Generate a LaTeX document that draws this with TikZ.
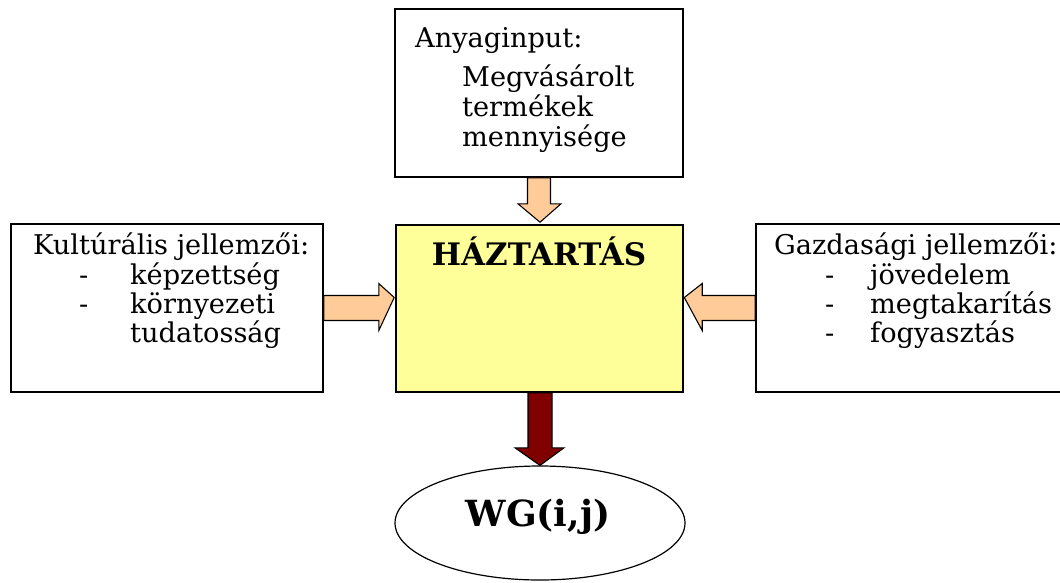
\documentclass[tikz,border=0pt]{standalone}
\usepackage{fontspec}
\setmainfont{DejaVu Serif}
\usetikzlibrary{shapes.geometric,calc}
\definecolor{boxyellow}{HTML}{FFFF99}
\definecolor{peach}{HTML}{FFCC99}
\definecolor{darkred}{HTML}{800000}
\tikzset{
  frame/.style={draw=black, line width=1.6pt, fill=white, inner sep=0pt},
  txt/.style={anchor=base west, inner sep=0pt, font=\fontsize{27.2}{31}\selectfont},
  blockarrow/.style={draw=black, line width=1.1pt, line join=miter},
}
\begin{document}
\begin{tikzpicture}[x=1pt,y=-1pt]
\useasboundingbox (0,0) rectangle (1060,582);
\clip (0,0) rectangle (1060,582);
% boxes
\node[frame, minimum width=288pt, minimum height=168pt] (top) at (539,93) {};
\node[frame, fill=boxyellow, minimum width=287pt, minimum height=167pt] (hh) at (539.5,308.5) {};
\node[frame, minimum width=312pt, minimum height=168pt] (left) at (167,308) {};
\node[frame, minimum width=312pt, minimum height=168pt] (right) at (912,308) {};
\node[draw=black, line width=1.2pt, ellipse, fill=white, minimum width=290pt, minimum height=114pt, inner sep=0pt] (wg) at (540,523) {};
% texts
\node[txt] (t1) at (415,47) {Anyaginput:};
\node[txt] (t2) at (462,86) {Megvásárolt};
\node[txt] (t3) at (462,116) {termékek};
\node[txt] (t4) at (462,146) {mennyisége};
\node[txt] (l1) at (33,254) {Kultúrális jellemzői:};
\node[txt] (l2d) at (79,284) {-};
\node[txt] (l2) at (130,284) {képzettség};
\node[txt] (l3d) at (79,313) {-};
\node[txt] (l3) at (130,313) {környezeti};
\node[txt] (l4) at (130,342) {tudatosság};
\node[txt] (r1) at (774,254) {Gazdasági jellemzői:};
\node[txt] (r2d) at (825,284) {-};
\node[txt] (r2) at (870,284) {jövedelem};
\node[txt] (r3d) at (825,313) {-};
\node[txt] (r3) at (870,313) {megtakarítás};
\node[txt] (r4d) at (825,342) {-};
\node[txt] (r4) at (870,342) {fogyasztás};
\node[anchor=base, inner sep=0pt, font=\fontsize{31}{36}\selectfont\bfseries] (hht) at (539,265) {HÁZTARTÁS};
\node[anchor=base, inner sep=0pt, font=\fontsize{36}{42}\selectfont\bfseries] (wgt) at (538,526) {WG(i,j)};
% arrows
% top -> hh (down)
\draw[blockarrow, fill=peach]
  ($(top.south)+(-11.5,0)$) -- ($(top.south)+(11.5,0)$) -- ($(top.south)+(11.5,26)$)
  -- ($(top.south)+(22,26)$) -- ($(hh.north)+(0.5,-2)$) -- ($(top.south)+(-21,26)$)
  -- ($(top.south)+(-11.5,26)$) -- cycle;
% left -> hh (right)
\draw[blockarrow, fill=peach]
  ($(left.east)+(0,-12.5)$) -- ($(left.east)+(55,-12.5)$) -- ($(left.east)+(55,-24.5)$)
  -- ($(hh.west)+(-1,-11)$) -- ($(left.east)+(55,22.5)$) -- ($(left.east)+(55,12.5)$)
  -- ($(left.east)+(0,12.5)$) -- cycle;
% right -> hh (left)
\draw[blockarrow, fill=peach]
  ($(right.west)+(0,-12.5)$) -- ($(right.west)+(-53,-12.5)$) -- ($(right.west)+(-53,-24.5)$)
  -- ($(hh.east)+(0.5,-11)$) -- ($(right.west)+(-53,22.5)$) -- ($(right.west)+(-53,12.5)$)
  -- ($(right.west)+(0,12.5)$) -- cycle;
% hh -> wg (down)
\draw[blockarrow, fill=darkred]
  ($(hh.south)+(-11.5,0)$) -- ($(hh.south)+(12.5,0)$) -- ($(hh.south)+(12.5,55)$)
  -- ($(hh.south)+(24.5,55)$) -- (wg.north) -- ($(hh.south)+(-24.5,55)$)
  -- ($(hh.south)+(-11.5,55)$) -- cycle;
\end{tikzpicture}
\end{document}
